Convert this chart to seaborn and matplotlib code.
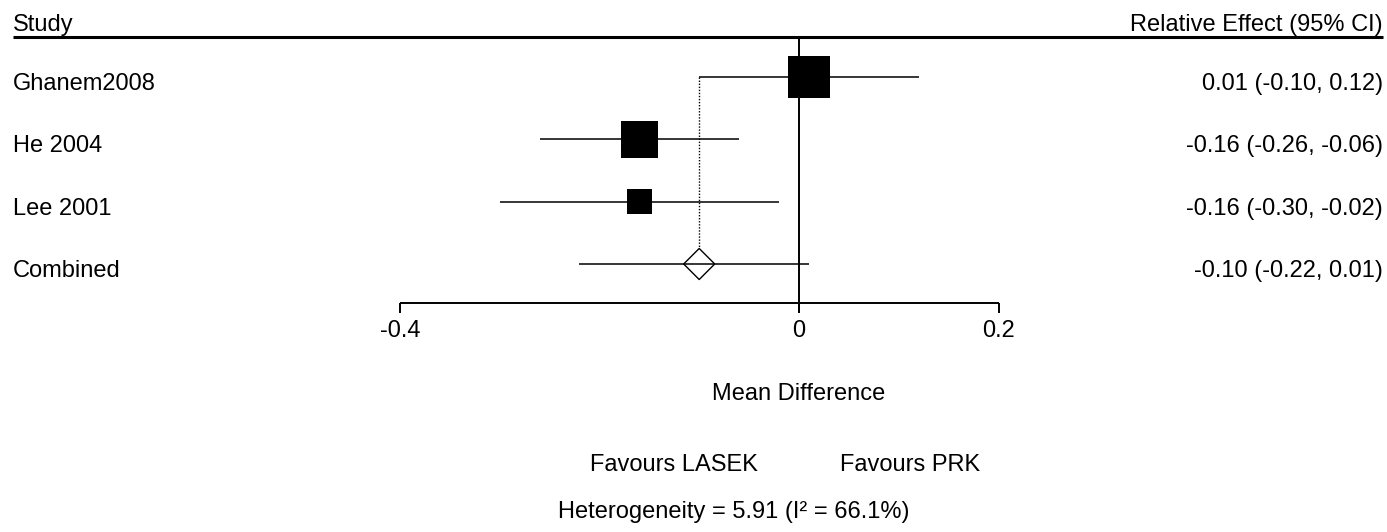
import numpy as np
import pandas as pd
import matplotlib
matplotlib.use("Agg")
import matplotlib.pyplot as plt
import seaborn as sns

# ---------------- data ----------------
studies = ["Ghanem2008", "He 2004", "Lee 2001"]
estimates = [0.01, -0.16, -0.16]
ci_low = [-0.10, -0.26, -0.30]
ci_high = [0.12, -0.06, -0.02]
weights = [46.9, 36.4, 16.6]          # relative study weights (%)
combined_label = "Combined"
combined_est = -0.10
combined_low = -0.22
combined_high = 0.01
effect_labels = ["0.01 (-0.10, 0.12)", "-0.16 (-0.26, -0.06)",
                 "-0.16 (-0.30, -0.02)", "-0.10 (-0.22, 0.01)"]
xticks = [-0.4, 0.0, 0.2]
xtick_labels = ["-0.4", "0", "0.2"]
header_left = "Study"
header_right = "Relative Effect (95% CI)"
xlabel = "Mean Difference"
favours_left = "Favours LASEK"
favours_right = "Favours PRK"
heterogeneity = "Heterogeneity = 5.91 (I\u00b2 = 66.1%)"

# ---------------- style ----------------
sns.set_theme(style="white")
plt.rcParams["font.family"] = ["Liberation Sans", "DejaVu Sans"]
plt.rcParams["text.color"] = "black"
FS = 17

W, H = 1387, 532
fig = plt.figure(figsize=(W / 100, H / 100), dpi=100)
ax = fig.add_axes([0, 0, 1, 1])
ax.axis("off")

# pixel geometry -> data scales
x_zero_px, px_per_unit = 799.0, 998.0
row0_px, row_step = 77.0, 62.33
ax.set_xlim(-x_zero_px / px_per_unit, (W - x_zero_px) / px_per_unit)
ax.set_ylim((H - row0_px) / row_step, -row0_px / row_step)

def px_x(p):
    return (p - x_zero_px) / px_per_unit

def px_y(p):
    return (p - row0_px) / row_step

n = len(studies)
rows = np.arange(n)
comb_row = n
df = pd.DataFrame({"study": studies, "est": estimates, "lo": ci_low,
                   "hi": ci_high, "w": weights, "row": rows})

header_y = px_y(37)
axis_y = px_y(303)
tick_bot = px_y(313)
text_off = 7 / row_step

# header line + zero line
ax.hlines(header_y, px_x(13), px_x(1383), color="black", lw=2.2, zorder=2)
ax.vlines(0, header_y, tick_bot, color="black", lw=1.4, zorder=1)

# CI lines
ax.hlines(df["row"], df["lo"], df["hi"], color="black", lw=1.1, zorder=3)
ax.hlines(comb_row, combined_low, combined_high, color="black", lw=1.1, zorder=3)

# squares
sizes = np.array(weights) * 19.5
sns.scatterplot(data=df, x="est", y="row", marker="s", s=sizes, color="black",
                linewidth=0, ax=ax, zorder=4, legend=False)

# combined diamond
diamond_half = 16 / row_step
sns.scatterplot(x=[combined_est], y=[comb_row], marker="D", s=250,
                color="none", edgecolor="black", linewidth=1.0, ax=ax,
                zorder=4, legend=False)
ax.vlines(combined_est, 0, comb_row - diamond_half, color="black",
          lw=1.0, linestyles=(0, (1, 1.2)), zorder=2)

# axis
ax.hlines(axis_y, xticks[0], xticks[-1], color="black", lw=1.4)
ax.vlines(xticks, axis_y, tick_bot, color="black", lw=1.4)
for t, lab in zip(xticks, xtick_labels):
    ax.text(t, px_y(331), lab, ha="center", va="center", fontsize=FS)

# texts
ax.text(px_x(13), px_y(31), header_left, ha="left", va="baseline", fontsize=FS)
ax.text(px_x(1383), px_y(31), header_right, ha="right", va="baseline", fontsize=FS)
for r, s in zip(rows, studies):
    ax.text(px_x(13), r + text_off, s, ha="left", va="center", fontsize=FS)
ax.text(px_x(13), comb_row + text_off, combined_label, ha="left", va="center", fontsize=FS)
for r, s in enumerate(effect_labels):
    ax.text(px_x(1383), r + text_off, s, ha="right", va="center", fontsize=FS)

ax.text(0, px_y(394), xlabel, ha="center", va="center", fontsize=FS)
ax.text(px_x(758), px_y(465), favours_left, ha="right", va="center", fontsize=FS)
ax.text(px_x(840), px_y(465), favours_right, ha="left", va="center", fontsize=FS)
ax.text(px_x(734), px_y(512), heterogeneity, ha="center", va="center", fontsize=FS)

fig.savefig("out.png", dpi=100, facecolor="white")
